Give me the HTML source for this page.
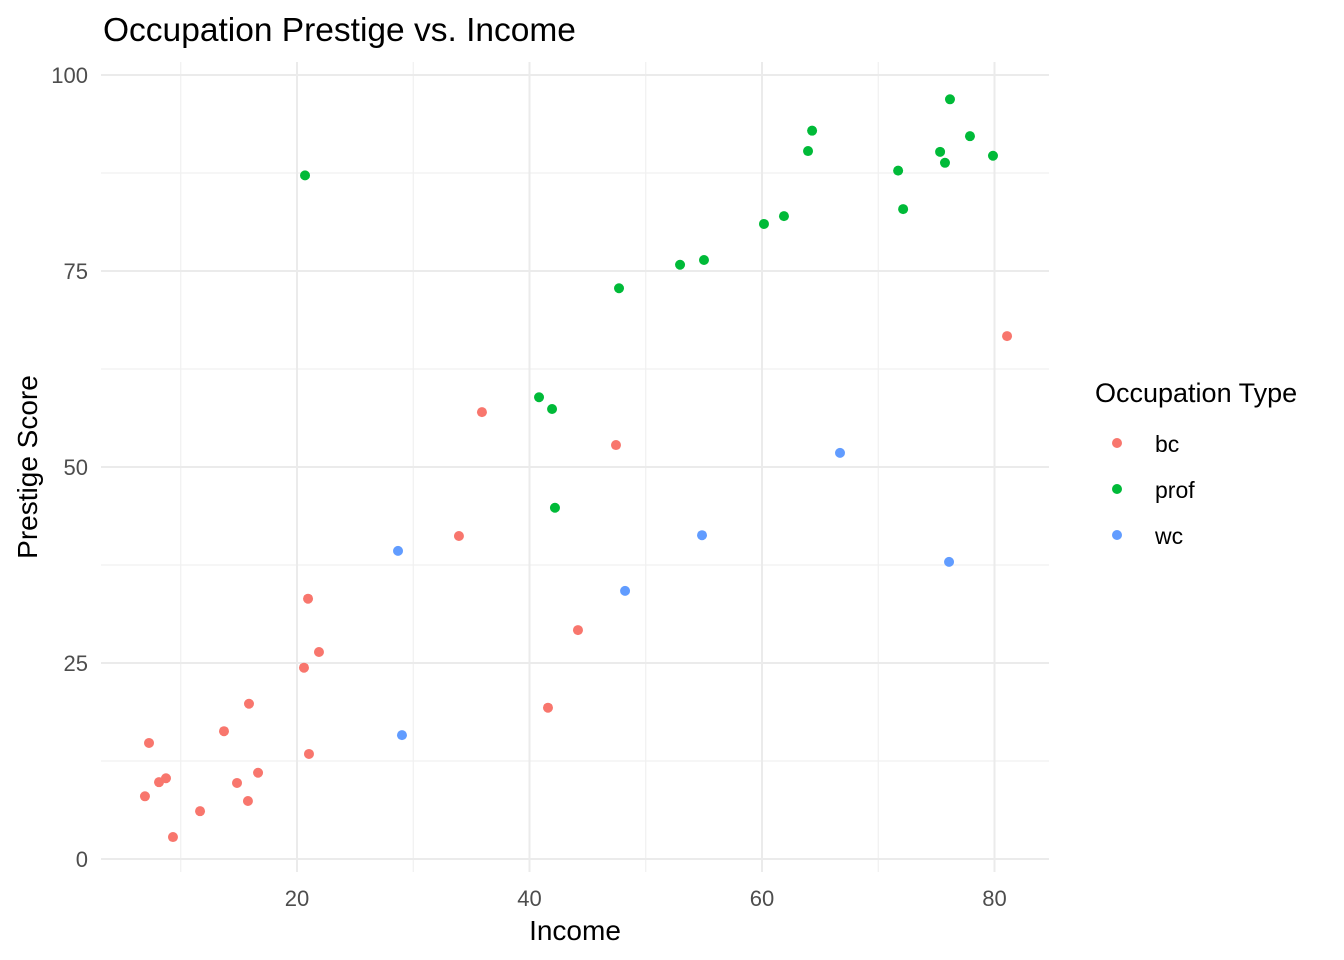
<!DOCTYPE html>
<html><head><meta charset="utf-8"><style>
html,body{margin:0;padding:0;background:#fff;}
svg{display:block;font-family:"Liberation Sans",Arial,sans-serif;}
</style></head><body>
<svg id="chart" width="1344" height="960" viewBox="0 0 1344 960">
<text x="103" y="41" font-size="33.5" fill="#000">Occupation Prestige vs. Income</text>
<g id="grid"></g>
<g id="axes"></g>
<g id="points"></g>
<text x="575" y="940" font-size="28" text-anchor="middle" fill="#000">Income</text>
<text transform="translate(37,467) rotate(-90)" font-size="28" text-anchor="middle" fill="#000">Prestige Score</text>
<g id="legend">
<text x="1095" y="402" font-size="27" fill="#000">Occupation Type</text>
</g>
</svg>
<script>
const bcIncome=[81.08,47.44,35.91,33.93,44.17,41.59,20.95,21.89,20.6,21.03,15.87,13.72,16.65,14.84,15.78,11.66,9.33,8.73,8.13,7.27,6.92];
const bcPrestige=[66.7,52.8,57.0,41.2,29.2,19.3,33.2,26.4,24.4,13.4,19.8,16.3,11.0,9.7,7.4,6.1,2.8,10.3,9.8,14.8,8.0];
const profIncome=[20.69,40.82,41.94,42.19,47.7,52.95,55.01,60.17,61.89,63.96,64.31,71.71,72.14,75.32,75.74,76.17,77.89,79.87];
const profPrestige=[87.2,58.9,57.4,44.8,72.8,75.8,76.4,81.0,82.0,90.3,92.9,87.8,82.9,90.2,88.8,96.9,92.2,89.7];
const wcIncome=[66.71,76.09,54.84,48.22,28.69,29.03];
const wcPrestige=[51.8,37.9,41.3,34.2,39.3,15.8];
const categories=["bc","prof","wc"];
const xTicks=[20,40,60,80];
const yTicks=[0,25,50,75,100];

const NS="http://www.w3.org/2000/svg";
const colors={bc:"#F8766D",prof:"#00BA38",wc:"#619CFF"};
const px0=101,px1=1049,py0=62,py1=872;
function xs(v){return 64.5+v*11.625;}
function ys(v){return 859-v*7.84;}
function mk(tag,attrs,parent){const e=document.createElementNS(NS,tag);for(const k in attrs)e.setAttribute(k,attrs[k]);parent.appendChild(e);return e;}
const grid=document.getElementById('grid'),axes=document.getElementById('axes'),pts=document.getElementById('points'),leg=document.getElementById('legend');
for(let i=0;i<xTicks.length;i++){const v=xTicks[i]-10;const l=mk('line',{x1:xs(v),x2:xs(v),y1:py0,y2:py1,stroke:'#f0f0f0','stroke-width':1.2},grid);

}
for(let i=0;i<yTicks.length-1;i++){const v=(yTicks[i]+yTicks[i+1])/2;const l=mk('line',{x1:px0,x2:px1,y1:ys(v),y2:ys(v),stroke:'#f0f0f0','stroke-width':1.2},grid);

}
xTicks.forEach(v=>{const l=mk('line',{x1:xs(v),x2:xs(v),y1:py0,y2:py1,stroke:'#ebebeb','stroke-width':2},grid);


const t=mk('text',{x:xs(v),y:906,'font-size':22,'text-anchor':'middle',fill:'#4d4d4d'},axes);t.textContent=v;

});
yTicks.forEach(v=>{const l=mk('line',{x1:px0,x2:px1,y1:ys(v),y2:ys(v),stroke:'#ebebeb','stroke-width':2},grid);


const t=mk('text',{x:88,y:ys(v)+8,'font-size':22,'text-anchor':'end',fill:'#4d4d4d'},axes);t.textContent=v;

});
const series={bc:[bcIncome,bcPrestige],prof:[profIncome,profPrestige],wc:[wcIncome,wcPrestige]};
categories.forEach((c,ci)=>{const [xa,ya]=series[c];
xa.forEach((x,i)=>{const p=mk('circle',{cx:xs(x),cy:ys(ya[i]),r:5,fill:colors[c]},pts);

});
const k=mk('circle',{cx:1117,cy:443+ci*46,r:5,fill:colors[c]},leg);


const t=mk('text',{x:1155,y:452+ci*46,'font-size':23,fill:'#000'},leg);t.textContent=c;

});
</script>
</body></html>
